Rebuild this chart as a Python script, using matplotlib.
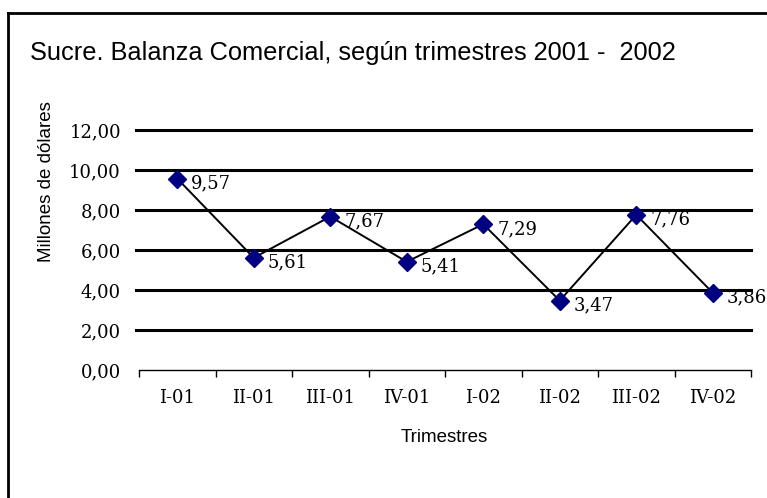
import matplotlib
matplotlib.use("Agg")
import matplotlib.pyplot as plt
from matplotlib.lines import Line2D

# Data
trimestres = ["I-01", "II-01", "III-01", "IV-01", "I-02", "II-02", "III-02", "IV-02"]
valores = [9.57, 5.61, 7.67, 5.41, 7.29, 3.47, 7.76, 3.86]
y_ticks = [0, 2, 4, 6, 8, 10, 12]

W, H = 767, 498
fig = plt.figure(figsize=(W / 100, H / 100), dpi=100)

# plot area in pixels: x 139..751, y 130..370 (12 -> 0)
ax = fig.add_axes([139 / W, 1 - 370 / H, (751 - 139) / W, (370 - 130) / H])

x = list(range(len(trimestres)))
ax.plot(x, valores, color="black", lw=1.4, zorder=3)
ax.plot(x, valores, ls="none", marker="D", ms=9, color="#000080", zorder=4)

for xi, v in zip(x, valores):
    ax.annotate(f"{v:.2f}".replace(".", ","), (xi, v), xytext=(10, -3.5),
                textcoords="offset points", ha="left", va="center",
                fontsize=13, family="DejaVu Serif", color="black", zorder=5)

ax.set_xlim(-0.5, len(trimestres) - 0.5)
ax.set_ylim(0, 12)

# gridlines (thick black)
for t in y_ticks[1:]:
    ax.axhline(t, color="black", lw=2.2, zorder=1, xmin=-0.005, clip_on=False)

ax.set_yticks(y_ticks)
ax.set_yticklabels([f"{t:.2f}".replace(".", ",") for t in y_ticks],
                   family="DejaVu Serif", fontsize=13)
ax.tick_params(axis="y", length=0, pad=13)

ax.set_xticks(x)
ax.set_xticklabels(trimestres, family="DejaVu Serif", fontsize=13)
ax.set_xticks([i - 0.5 for i in range(len(trimestres) + 1)], minor=True)
ax.tick_params(axis="x", which="major", length=0, pad=14)
ax.tick_params(axis="x", which="minor", length=5, width=1)

for s in ["top", "right", "left"]:
    ax.spines[s].set_visible(False)
ax.spines["bottom"].set_linewidth(1)

fig.text(30 / W, 1 - 60 / H, "Sucre. Balanza Comercial, según trimestres 2001 -  2002",
         family="Liberation Sans", fontsize=18.3, ha="left", va="baseline")
fig.text(47 / W, 1 - 182 / H, "Millones de dólares", family="Liberation Sans",
         fontsize=13.5, rotation=90, ha="center", va="center")
fig.text(444 / W, 1 - 438 / H, "Trimestres", family="Liberation Sans",
         fontsize=13.5, ha="center", va="center")

# frame (top and left edges visible)
fig.add_artist(Line2D([8 / W, 1.0], [1 - 13 / H, 1 - 13 / H], color="black", lw=2,
                      transform=fig.transFigure))
fig.add_artist(Line2D([8 / W, 8 / W], [0, 1 - 13 / H], color="black", lw=2,
                      transform=fig.transFigure))

fig.savefig("out.png", dpi=100)
